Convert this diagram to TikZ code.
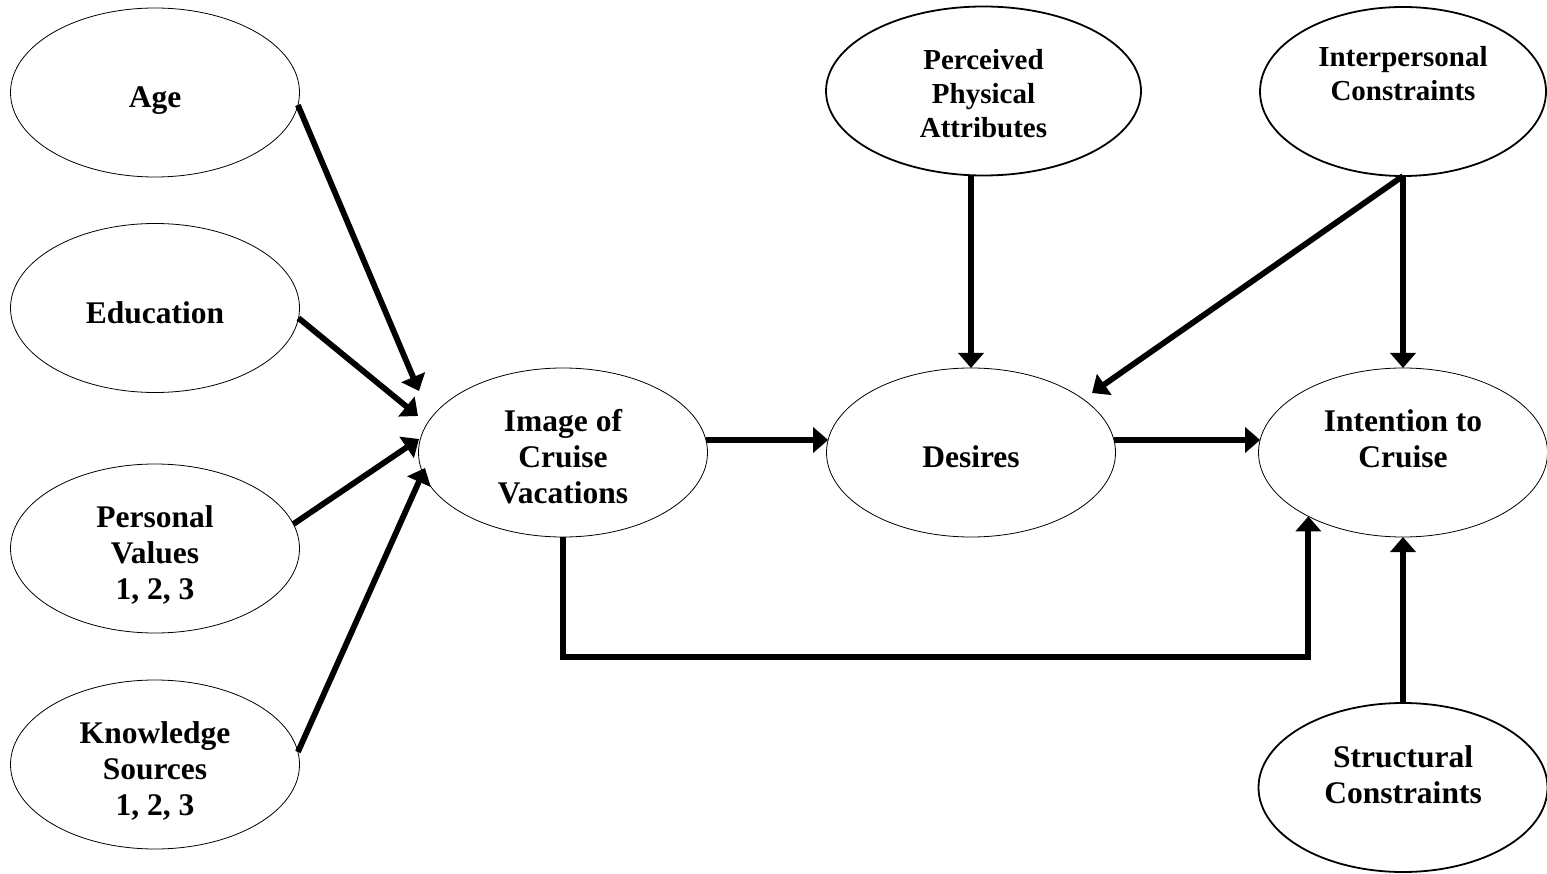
\documentclass[tikz,border=0pt]{standalone}
\usepackage{fontspec}
\setmainfont{Liberation Serif}
\usetikzlibrary{shapes.geometric,arrows.meta}

% centred block of lines, lowered a little inside its oval
\newcommand\ovaltxt[2][8pt]{\raisebox{-#1}[\height][\depth]{\begin{tabular}{@{}c@{}}#2\end{tabular}}}

\tikzset{
  oval/.style={ellipse, draw, minimum width=289pt, minimum height=169pt,
    inner sep=0pt, outer sep=0pt, line width=0.8pt,
    font=\bfseries\fontsize{31.5}{36}\selectfont},
  heavy/.style={line width=1.8pt},
  topfont/.style={font=\bfseries\fontsize{29}{33.8}\selectfont},
  arr/.style={line width=5.8pt, line join=miter,
    -{Triangle[length=15pt,width=25pt]}}
}

\begin{document}
\begin{tikzpicture}[x=1pt,y=-1pt]
\useasboundingbox (0,0) rectangle (1547,874);
\fill[white] (0,0) rectangle (1547,874);

% antecedents
\node[oval] (age) at (155,92.5) {\ovaltxt{Age}};
\node[oval] (edu) at (155,308) {\ovaltxt{Education}};
\node[oval] (pv)  at (155,548.5) {\ovaltxt{Personal\\Values\\1, 2, 3}};
\node[oval] (ks)  at (155,764.5) {\ovaltxt{Knowledge\\Sources\\1, 2, 3}};

% central chain
\node[oval] (img) at (563,452.5) {\ovaltxt{Image of\\Cruise\\Vacations}};
\node[oval] (des) at (971,452.5) {\ovaltxt{Desires}};
\node[oval] (int) at (1403,452.5) {\ovaltxt{Intention to\\Cruise\\\mbox{}}};

% moderators
\node[oval, heavy, topfont, minimum width=315pt] (perc) at (983.5,91)
  {\ovaltxt[5.6pt]{Perceived\\Physical\\Attributes}};
\node[oval, heavy, font=\bfseries\fontsize{29}{34.5}\selectfont, minimum width=286pt] (inter) at (1403,91.5)
  {\ovaltxt[2.5pt]{Interpersonal\\Constraints\\\mbox{}}};
\node[oval, heavy] (str) at (1403,787.5)
  {\ovaltxt[9pt]{Structural\\Constraints\\\mbox{}}};

% free arrow ends near the image oval
\coordinate (tA) at (419,391);
\coordinate (tE) at (418,416);
\coordinate (tP) at (419,439);
\coordinate (tK) at (425,468);
\coordinate (tI) at (1092,393);
\coordinate (low) at (0,657);

\draw[arr] (age.-5) -- (tA);
\draw[arr] (edu.-4) -- (tE);
\draw[arr] (pv.10) -- (tP);
\draw[arr] (ks.5) -- (tK);

\draw[arr] (img.5) -- (des.175);
\draw[arr] (des.5) -- (int.175);

\draw[arr] (des.north |- perc.south) -- (des.north);
\draw[arr] (inter.south) -- (tI);
\draw[arr] (inter.south) -- (int.north);
\draw[arr] (str.north) -- (int.south);

\draw[arr] (img.south) -- (img.south |- low) -| (int.214);
\end{tikzpicture}
\end{document}
